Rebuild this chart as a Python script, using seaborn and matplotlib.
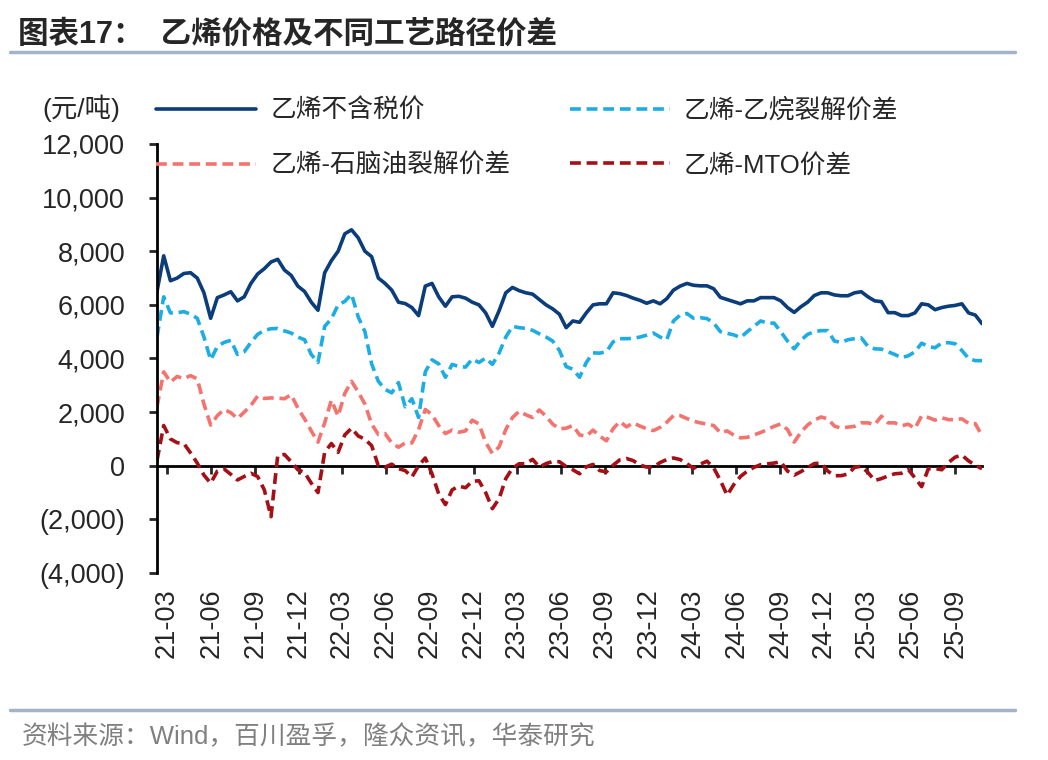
import pandas as pd
import numpy as np
import matplotlib
matplotlib.use("Agg")
import matplotlib.pyplot as plt
import matplotlib.ticker as mticker
from matplotlib.lines import Line2D
import seaborn as sns

# ----------------------------------------------------------
# Data (biweekly, yuan/ton)
# ----------------------------------------------------------

dates = pd.date_range("2021-02-08", periods=124, freq="14D")

price = [6500, 7830, 6900, 7000, 7170, 7200, 7000, 6450, 5500, 6270,
         6370, 6490, 6150, 6300, 6800, 7150, 7350, 7600, 7700, 7300,
         7100, 6700, 6500, 6100, 5800, 7200, 7650, 8000, 8650, 8800,
         8500, 8000, 7800, 7000, 6800, 6550, 6100, 6050, 5900, 5600,
         6700, 6800, 6300, 5950, 6300, 6320, 6250, 6100, 6000, 5700,
         5200, 5780, 6450, 6650, 6530, 6450, 6400, 6200, 6000, 5850,
         5650, 5150, 5400, 5350, 5700, 6000, 6040, 6040, 6450, 6420,
         6350, 6250, 6170, 6060, 6150, 6040, 6230, 6550, 6700, 6800,
         6730, 6710, 6710, 6600, 6280, 6200, 6120, 6040, 6150, 6150,
         6270, 6270, 6270, 6150, 5900, 5720, 5930, 6100, 6350, 6450,
         6450, 6370, 6340, 6340, 6450, 6490, 6300, 6150, 6120, 5710,
         5710, 5600, 5600, 5700, 6040, 6000, 5820, 5900, 5950, 5980,
         6040, 5700, 5620, 5300]

ethane_spread = [4800, 6300, 5700, 5700, 5750, 5650, 5500, 4800, 3950, 4450,
                 4600, 4680, 4150, 4250, 4600, 4900, 5050, 5110, 5120, 5030,
                 4950, 4800, 4700, 4150, 3850, 5200, 5480, 6000, 6130, 6400,
                 5550, 5000, 3800, 3150, 2850, 2720, 3100, 2200, 2500, 1800,
                 3500, 3950, 3800, 3300, 3780, 3700, 3680, 3980, 3850, 4020,
                 3780, 4200, 4800, 5200, 5150, 5120, 5050, 4920, 4800, 4650,
                 4300, 3700, 3600, 3300, 3850, 4210, 4200, 4250, 4620, 4740,
                 4740, 4750, 4800, 4870, 4950, 4800, 4700, 5400, 5620, 5680,
                 5500, 5520, 5490, 5320, 5000, 4940, 4880, 4780, 5000, 5200,
                 5400, 5320, 5320, 5000, 4650, 4360, 4680, 4900, 5000, 5040,
                 5040, 4650, 4600, 4700, 4740, 4770, 4450, 4360, 4350, 4250,
                 4150, 4030, 4100, 4250, 4570, 4450, 4400, 4580, 4590, 4550,
                 4300, 4000, 3920, 3920]

naphtha_spread = [2200, 3500, 3120, 3330, 3250, 3360, 3240, 2300, 1520, 1870,
                  2100, 1980, 1760, 2000, 2250, 2600, 2510, 2530, 2520, 2500,
                  2650, 2150, 1750, 1300, 880, 1600, 2450, 1850, 2700, 3150,
                  2750, 2300, 1550, 1170, 1200, 850, 690, 850, 850, 1350,
                  2100, 1900, 1500, 1200, 1330, 1250, 1300, 1700, 1560, 870,
                  460, 700, 1350, 1800, 2030, 1900, 1800, 2080, 1850, 1550,
                  1380, 1400, 1500, 1150, 1100, 1330, 1110, 930, 1380, 1650,
                  1450, 1600, 1480, 1380, 1310, 1430, 1620, 1870, 1870, 1760,
                  1660, 1600, 1550, 1500, 1230, 1300, 1140, 1040, 1060, 1150,
                  1240, 1350, 1470, 1560, 1350, 880, 1250, 1520, 1700, 1820,
                  1750, 1480, 1400, 1440, 1470, 1600, 1600, 1530, 1850, 1600,
                  1600, 1490, 1550, 1390, 1860, 1800, 1700, 1790, 1720, 1720,
                  1750, 1580, 1570, 1120]

mto_spread = [200, 1500, 1000, 860, 830, 480, 100, -350, -650, -200,
              -120, -320, -530, -400, -280, -400, -900, -1900, 380, 420,
              150, -150, -250, -650, -1000, 500, 830, 500, 1150, 1400,
              1110, 990, 750, 0, -50, 60, -110, -180, -420, 0,
              290, -300, -1050, -1450, -900, -760, -820, -580, -560, -1000,
              -1600, -1230, -480, -90, 75, 75, 240, -50, 80, 160,
              150, -30, -150, -300, -40, 50, -180, -230, 20, 220,
              270, 190, 30, -50, -50, 120, 230, 290, 230, 80,
              -100, 60, 170, -80, -550, -1100, -700, -400, -200, -60,
              40, 70, 100, 150, -200, -350, -220, -70, 80, 100,
              -200, -370, -370, -310, -60, -20, -250, -550, -480, -380,
              -300, -280, -140, -450, -780, -110, -100, -150, 120, 320,
              400, 180, 20, -110]

labels = ["乙烯不含税价", "乙烯-乙烷裂解价差", "乙烯-石脑油裂解价差", "乙烯-MTO价差"]
colors = ["#0B3D7B", "#1CADE4", "#F4736E", "#A50F15"]

y_ticks = list(range(-4000, 12001, 2000))
x_ticks = pd.date_range("2021-03-01", "2025-09-01", freq="3MS")

# ----------------------------------------------------------
# Style
# ----------------------------------------------------------

sns.set_style("white")
plt.rcParams["font.family"] = ["Liberation Sans", "Noto Sans CJK SC", "DejaVu Sans"]

fig = plt.figure(figsize=(10.48, 7.6), dpi=100)
ax = fig.add_axes([157 / 1048, 1 - 573 / 760, (982 - 157) / 1048, (573 - 144) / 760])

# ----------------------------------------------------------
# Lines
# ----------------------------------------------------------

series = [price, ethane_spread, naphtha_spread, mto_spread]
styles = ["-", (0, (3, 1.6)), (0, (3, 1.6)), (0, (3, 1.6))]
for vals, lab, col, ls in zip(series, labels, colors, styles):
    sns.lineplot(x=dates, y=vals, ax=ax, color=col, linestyle=ls,
                 linewidth=2.6, label=lab)

ax.set_xlim(dates[0], dates[-1])
ax.set_ylim(-4000, 12000)
ax.set_yticks(y_ticks)


def fmt_num(v, pos):
    if v < 0:
        return "({:,.0f})".format(-v)
    return "{:,.0f}".format(v)


ax.yaxis.set_major_formatter(mticker.FuncFormatter(fmt_num))
ax.set_xticks(x_ticks)
ax.set_xticklabels([d.strftime("%y-%m") for d in x_ticks], rotation=90)
ax.tick_params(axis="x", length=0, pad=11, labelsize=19.5)
ax.tick_params(axis="y", length=6, width=2, direction="out", pad=17,
               labelsize=19.5, left=True)
ax.set_xlabel("")
ax.set_ylabel("")

for s in ["top", "right", "bottom"]:
    ax.spines[s].set_visible(False)
ax.spines["left"].set_linewidth(2)
ax.spines["left"].set_color("black")

# zero line with tick marks
sec = ax.secondary_xaxis(0.25)
sec.set_xticks(x_ticks)
sec.tick_params(axis="x", length=6, width=2, direction="out", labelbottom=False)
sec.spines["bottom"].set_linewidth(2)
sec.spines["bottom"].set_color("black")

# ----------------------------------------------------------
# Legend
# ----------------------------------------------------------

h, l = ax.get_legend_handles_labels()
order = [0, 2, 1, 3]
ax.legend([h[i] for i in order], [l[i] for i in order], ncol=2,
          loc="upper left", bbox_to_anchor=(156 / 1048, 1 - 98 / 760),
          bbox_transform=fig.transFigure, frameon=False, fontsize=18.5,
          handlelength=3.9, handletextpad=0.55, columnspacing=2.3,
          labelspacing=1.2, borderpad=0, borderaxespad=0)

fig.text(42 / 1048, 1 - 108 / 760, "(元/吨)", fontsize=19, va="center", ha="left")

# ----------------------------------------------------------
# Title, rules and source
# ----------------------------------------------------------

fig.text(18 / 1048, 1 - 35 / 760, "图表17：  乙烯价格及不同工艺路径价差",
         fontsize=22, fontweight="bold", va="center", ha="left")

for yy in [52, 710]:
    fig.add_artist(Line2D([10 / 1048, 1015 / 1048], [1 - yy / 760, 1 - yy / 760],
                          transform=fig.transFigure, color="#A3B4C8", linewidth=2.5))

fig.text(22 / 1048, 1 - 737 / 760, "资料来源：Wind，百川盈孚，隆众资讯，华泰研究",
         fontsize=18.5, color="#808080", va="center", ha="left")

fig.savefig("out.png", dpi=100)
plt.close(fig)
